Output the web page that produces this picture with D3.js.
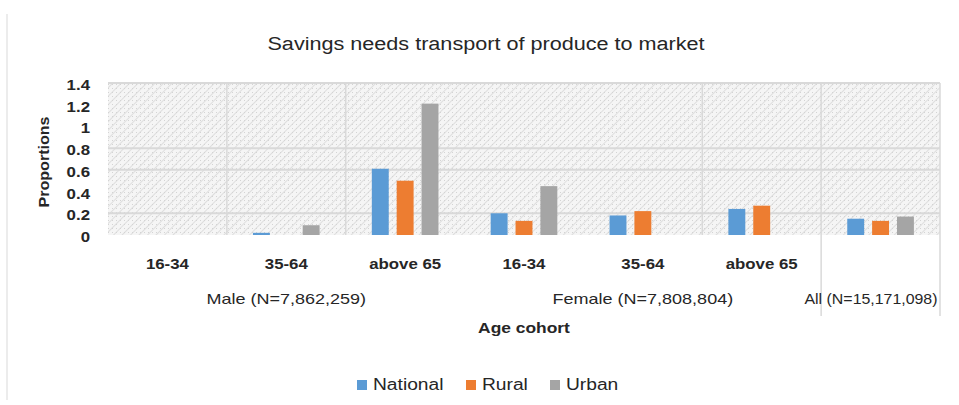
<!DOCTYPE html>
<html><head><meta charset="utf-8">
<script src="https://cdn.jsdelivr.net/npm/d3@7"></script>
<style>body{margin:0;background:#fff;}svg{display:block;font-family:"Liberation Sans",Arial,sans-serif;}</style>
</head><body><svg id="c" width="959" height="405"></svg>
<script>
const categories = ["16-34","35-64","above 65","16-34","35-64","above 65",""];
const groups = [{label:"Male (N=7,862,259)", from:0, to:3},{label:"Female (N=7,808,804)", from:3, to:6},{label:"All (N=15,171,098)", from:6, to:7}];
const seriesNames = ["National","Rural","Urban"];
const national = [0, 0.02, 0.61, 0.20, 0.18, 0.24, 0.15];
const rural    = [0, 0,    0.50, 0.13, 0.22, 0.27, 0.13];
const urban    = [0, 0.09, 1.21, 0.45, 0,    0,    0.17];
const yTicks = [0,0.2,0.4,0.6,0.8,1,1.2,1.4];
const yTickLabels = ["0","0.2","0.4","0.6","0.8","1","1.2","1.4"];
const colors = ["#5b9bd5","#ed7d31","#a5a5a5"];

const STRETCH = 1.2;
function stretch(sel, k){
  const f = k || STRETCH;
  sel.each(function(){
    const w = this.getComputedTextLength();
    if (w>0) d3.select(this).attr("textLength", w*f).attr("lengthAdjust","spacingAndGlyphs");
  });
}

const svg = d3.select("#c");
const L=108, R=940, T=83, B=235;
const idx = categories.map((d,i)=>i);
const x = d3.scaleBand().domain(idx).range([L,R]).paddingInner(0).paddingOuter(0);
const x1 = d3.scaleBand().domain(seriesNames).range([0,x.bandwidth()]).paddingInner(0.32).paddingOuter(1.05);
const y = d3.scaleLinear().domain([0,1.4]).range([B,T]);

// pattern
const defs = svg.append("defs");
const pat = defs.append("pattern").attr("id","hatch").attr("width",6).attr("height",6).attr("patternUnits","userSpaceOnUse").attr("patternTransform","rotate(45)");
pat.append("rect").attr("width",6).attr("height",6).attr("fill","#f5f5f5");
pat.append("line").attr("x1",0).attr("y1",0).attr("x2",0).attr("y2",6).attr("stroke","#dedede").attr("stroke-width",2);
const pat2 = defs.append("pattern").attr("id","dots").attr("width",4).attr("height",4).attr("patternUnits","userSpaceOnUse");
pat2.append("rect").attr("x",0).attr("y",0).attr("width",1).attr("height",1).attr("fill","#d4d4d4");

// outer left border
svg.append("line").attr("x1",7).attr("x2",7).attr("y1",14).attr("y2",400).attr("stroke","#d9d9d9");

svg.append("rect").attr("x",L).attr("y",T).attr("width",R-L).attr("height",B-T).attr("fill","url(#hatch)");
svg.append("rect").attr("x",L).attr("y",T).attr("width",R-L).attr("height",B-T).attr("fill","url(#dots)");

// horizontal gridlines (visible ones)
const gridShown = [0.2,0.6,0.8,1.4];
svg.selectAll(".hg").data(gridShown).enter().append("line")
  .attr("x1",L).attr("x2",R).attr("y1",d=>y(d)).attr("y2",d=>y(d))
  .attr("stroke","#d9d9d9").attr("stroke-width",2);
// vertical gridlines
const vShown = [1,2,5,6];
svg.selectAll(".vg").data(vShown).enter().append("line")
  .attr("x1",d=>x(d)).attr("x2",d=>x(d)).attr("y1",T).attr("y2",B)
  .attr("stroke","#d9d9d9").attr("stroke-width",1.5);
svg.append("line").attr("x1",R).attr("x2",R).attr("y1",T).attr("y2",B).attr("stroke","#d9d9d9").attr("stroke-width",1.5);
// group separators for "All"
svg.append("line").attr("x1",x(6)).attr("x2",x(6)).attr("y1",B).attr("y2",316).attr("stroke","#d9d9d9").attr("stroke-width",1.5);
svg.append("line").attr("x1",R).attr("x2",R).attr("y1",B).attr("y2",316).attr("stroke","#d9d9d9").attr("stroke-width",1.5);

// bars
const allSeries = [national, rural, urban];
allSeries.forEach((vals,si)=>{
  svg.append("g").selectAll("rect").data(vals).enter().append("rect")
    .attr("x",(d,i)=>x(i)+x1(seriesNames[si]))
    .attr("width",x1.bandwidth())
    .attr("y",d=>y(d)).attr("height",d=>B-y(d))
    .attr("fill",colors[si]);
});

// y axis labels
svg.selectAll(".yt").data(yTicks).enter().append("text")
  .attr("x",90).attr("y",d=>y(d)+7).attr("text-anchor","end")
  .attr("font-size",14).attr("font-weight","bold").attr("fill","#262626")
  .text((d,i)=>yTickLabels[i]).call(stretch);
svg.append("text").attr("transform","translate(49,162) rotate(-90)").attr("text-anchor","middle")
  .attr("font-size",14).attr("font-weight","bold").attr("fill","#262626").text("Proportions")
  .attr("textLength",91).attr("lengthAdjust","spacingAndGlyphs");

// category labels
svg.selectAll(".cl").data(categories).enter().append("text")
  .attr("x",(d,i)=>x(i)+x.bandwidth()/2).attr("y",269).attr("text-anchor","middle")
  .attr("font-size",14).attr("font-weight","bold").attr("fill","#262626").text(d=>d).call(stretch);
// group labels
svg.selectAll(".gl").data(groups).enter().append("text")
  .attr("x",d=>d.from===6 ? 871 : (x(d.from)+x(d.to-1)+x.bandwidth())/2).attr("y",304).attr("text-anchor","middle")
  .attr("font-size",15).attr("fill","#262626").text(d=>d.label)
  .each(function(d){ stretch(d3.select(this), d.from===6 ? 1.06 : STRETCH); });
svg.append("text").attr("x",(L+R)/2).attr("y",333).attr("text-anchor","middle")
  .attr("font-size",14.5).attr("font-weight","bold").attr("fill","#262626").text("Age cohort").call(stretch);

// title
svg.append("text").attr("x",486).attr("y",50).attr("text-anchor","middle")
  .attr("font-size",18).attr("fill","#262626").text("Savings needs transport of produce to market").call(stretch);

// legend
const legX = [357, 466, 550];
seriesNames.forEach((n,i)=>{
  svg.append("rect").attr("x",legX[i]).attr("y",380).attr("width",10).attr("height",10).attr("fill",colors[i]);
  svg.append("text").attr("x",legX[i]+16).attr("y",390).attr("font-size",16).attr("fill","#262626").text(n).call(stretch);
});
</script></body></html>
